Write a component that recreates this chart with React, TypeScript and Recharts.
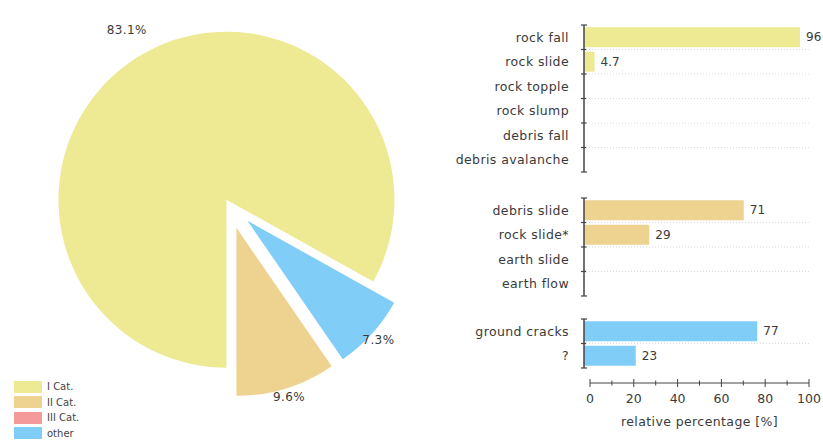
import { PieChart, Pie, Cell, Sector, Legend, BarChart, Bar, XAxis, YAxis, LabelList } from 'recharts'

// pie shares per landslide category
const categories = ['I Cat.', 'II Cat.', 'III Cat.', 'other']
const shares = [83.1, 9.6, 0, 7.3]
// drawing order of the slices, clockwise from 6 o'clock
const sliceOrder = ['I Cat.', 'other', 'III Cat.', 'II Cat.']

// relative percentages per movement type
const rockLabels = ['rock fall', 'rock slide', 'rock topple', 'rock slump', 'debris fall', 'debris avalanche']
const rockValues = [96, 4.7, 0, 0, 0, 0]
const debrisLabels = ['debris slide', 'rock slide*', 'earth slide', 'earth flow']
const debrisValues = [71, 29, 0, 0]
const otherLabels = ['ground cracks', '?']
const otherValues = [77, 23]
const percentTicks = [0, 10, 20, 30, 40, 50, 60, 70, 80, 90, 100]

const COLORS: Record<string, string> = {
  'I Cat.': '#EEE993',
  'II Cat.': '#EED290',
  'III Cat.': '#F59A9A',
  other: '#80CDF8',
}
const EXPLODE: Record<string, number> = { 'I Cat.': 5, 'II Cat.': 25, 'III Cat.': 25, other: 25 }

const FONT = '"DejaVu Sans", sans-serif'
const TEXT = '#3a3a3a'
const AXIS = '#444'
const PLOT_W = 225
const RAD = Math.PI / 180

const pieData = sliceOrder
  .map((name) => ({ name, value: shares[categories.indexOf(name)] }))
  .filter((d) => d.value > 0)

function ExplodedSlice(props: any) {
  const name = props.payload?.name ?? props.name
  const off = EXPLODE[name] ?? 0
  const a = -props.midAngle * RAD
  return <Sector {...props} cx={props.cx + off * Math.cos(a)} cy={props.cy + off * Math.sin(a)} stroke="none" />
}

function pieLabel(props: any) {
  const { cx, cy, midAngle, outerRadius, value } = props
  const r = outerRadius + 34
  const a = -midAngle * RAD
  return (
    <text
      x={cx + r * Math.cos(a)}
      y={cy + r * Math.sin(a)}
      textAnchor="middle"
      dy="0.35em"
      fill={TEXT}
      style={{ fontFamily: FONT, fontSize: 12, letterSpacing: 0.4 }}
    >
      {value}%
    </text>
  )
}

function PieLegend() {
  return (
    <div style={{ fontFamily: FONT, fontSize: 10, color: '#444' }}>
      {categories.map((c) => (
        <div key={c} style={{ display: 'flex', alignItems: 'center', height: 15.5 }}>
          <span style={{ display: 'inline-block', width: 28, height: 12, background: COLORS[c], marginRight: 5 }} />
          {c}
        </div>
      ))}
    </div>
  )
}

function RowTick(props: any) {
  const { x, y, payload, index, count } = props
  const half = payload?.offset ?? 12.25
  return (
    <g>
      <line x1={x - 3} x2={x + 3} y1={y - half} y2={y - half} stroke={AXIS} strokeWidth={1.2} />
      {index === count - 1 && <line x1={x - 3} x2={x + 3} y1={y + half} y2={y + half} stroke={AXIS} strokeWidth={1.2} />}
      {index > 0 && (
        <line x1={x + 2} x2={x + PLOT_W} y1={y - half} y2={y - half} stroke="#dcdcdc" strokeDasharray="1 2" />
      )}
      <text
        x={x - 15}
        y={y}
        dy="0.35em"
        textAnchor="end"
        fill={TEXT}
        style={{ fontFamily: FONT, fontSize: 12.5, letterSpacing: 0.4 }}
      >
        {payload.value}
      </text>
    </g>
  )
}

function PercentTick(props: any) {
  const { x, y, payload } = props
  const major = payload.value % 20 === 0
  const h = major ? 4 : 2.5
  return (
    <g>
      <line x1={x} x2={x} y1={y - h} y2={y + h} stroke={AXIS} strokeWidth={1} />
      {major && (
        <text x={x} y={y + 16} dy="0.35em" textAnchor="middle" fill={TEXT} style={{ fontFamily: FONT, fontSize: 12.5 }}>
          {payload.value}
        </text>
      )}
    </g>
  )
}

interface GroupProps {
  labels: string[]
  values: number[]
  color: string
  top: number
  height: number
}

function GroupChart({ labels, values, color, top, height }: GroupProps) {
  const data = labels.map((name, i) => ({ name, value: values[i] }))
  return (
    <div style={{ position: 'absolute', left: 420, top }}>
      <BarChart
        width={403}
        height={height}
        data={data}
        layout="vertical"
        margin={{ top: 2, right: 14, bottom: 2, left: 0 }}
        barCategoryGap="9%"
      >
        <XAxis type="number" domain={[0, 100]} hide />
        <YAxis
          type="category"
          dataKey="name"
          width={164}
          interval={0}
          axisLine={{ stroke: AXIS, strokeWidth: 1.5 }}
          tickLine={false}
          tickSize={0}
          tickMargin={0}
          tick={(p: any) => <RowTick {...p} count={labels.length} />}
        />
        <Bar dataKey="value" fill={color} isAnimationActive={false}>
          <LabelList
            dataKey="value"
            position="right"
            offset={6}
            formatter={(v: any) => (v ? v : '')}
            style={{ fontFamily: FONT, fontSize: 12, fill: TEXT }}
          />
        </Bar>
      </BarChart>
    </div>
  )
}

export default function App() {
  const axisData = otherLabels.map((name, i) => ({ name, value: otherValues[i] }))
  return (
    <div style={{ position: 'absolute', left: 0, top: 0, width: 823, height: 443, background: '#fff' }}>
      <div style={{ position: 'absolute', left: 0, top: 0 }}>
        <PieChart width={420} height={443} margin={{ top: 0, right: 0, bottom: 0, left: 0 }}>
          <Pie
            data={pieData}
            dataKey="value"
            nameKey="name"
            cx={229}
            cy={204}
            outerRadius={168}
            startAngle={270}
            endAngle={-90}
            stroke="none"
            shape={ExplodedSlice}
            label={pieLabel}
            labelLine={false}
            isAnimationActive={false}
          >
            {pieData.map((d) => (
              <Cell key={d.name} fill={COLORS[d.name]} />
            ))}
          </Pie>
          <Legend content={() => <PieLegend />} wrapperStyle={{ left: 14, top: 379, width: 100 }} />
        </PieChart>
      </div>

      <GroupChart labels={rockLabels} values={rockValues} color={COLORS['I Cat.']} top={23} height={151} />
      <GroupChart labels={debrisLabels} values={debrisValues} color={COLORS['II Cat.']} top={196} height={102} />
      <GroupChart labels={otherLabels} values={otherValues} color={COLORS.other} top={317} height={53} />

      {/* stand-alone percentage axis under the three groups */}
      <div style={{ position: 'absolute', left: 420, top: 372 }}>
        <BarChart width={403} height={62} data={axisData} layout="vertical" margin={{ top: 10, right: 14, bottom: 0, left: 170 }}>
          <XAxis
            type="number"
            domain={[0, 100]}
            ticks={percentTicks}
            interval={0}
            height={51}
            axisLine={{ stroke: AXIS, strokeWidth: 1.2 }}
            tickLine={false}
            tickSize={0}
            tickMargin={0}
            tick={(p: any) => <PercentTick {...p} />}
            label={{
              value: 'relative percentage [%]',
              position: 'insideBottom',
              offset: 8,
              style: { fontFamily: FONT, fontSize: 12.5, letterSpacing: 0.4, fill: TEXT },
            }}
          />
          <YAxis type="category" dataKey="name" hide />
          <Bar dataKey="value" fill="transparent" isAnimationActive={false} />
        </BarChart>
      </div>
    </div>
  )
}
